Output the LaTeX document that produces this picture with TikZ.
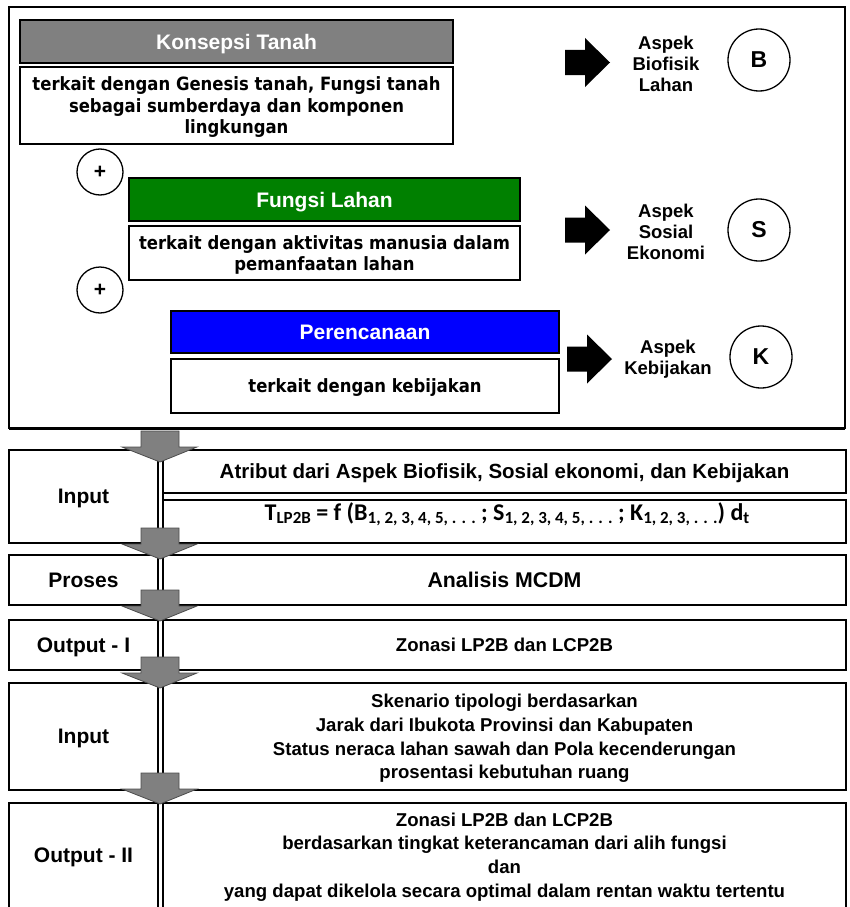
\documentclass[tikz,border=0pt]{standalone}
\usepackage{fontspec}
\setmainfont{Liberation Sans}
\newfontfamily\descfont[FakeStretch=0.9]{DejaVu Sans}
\newfontfamily\formulafont{Carlito}
\definecolor{konsepgray}{RGB}{128,128,128}
\definecolor{fungsigreen}{RGB}{0,128,0}
\definecolor{rencanablue}{RGB}{0,0,255}
\definecolor{flowgray}{RGB}{128,128,128}
\newcommand\fsz[2]{\fontsize{#1}{#2}\selectfont}
\newcommand\subidx[1]{\raisebox{-3pt}{\fsz{17}{17}#1}}

\tikzset{
  % rectangle given by its corners (x1,y1) and (x2,y2)
  spanrect/.style n args={4}{minimum width={#3-#1}, minimum height={#4-#2},
    at={({(#1+#3)/2},{(#2+#4)/2})}},
  boxline/.style={draw=black, line width=1.3pt},
  panel/.style={boxline, rectangle, inner sep=0pt, outer sep=0pt, align=center, text depth=0pt},
  headbox/.style={panel, text=white, font=\bfseries\fsz{21}{24}},
  descbox/.style={panel, fill=white, font=\descfont\bfseries\fsz{18.3}{21.5}},
  aspek/.style={align=center, font=\bfseries\fsz{18.5}{21}},
  badge/.style={circle, boxline, minimum size=62pt, inner sep=0pt, font=\bfseries\fsz{23}{23}},
  plusbadge/.style={circle, boxline, minimum size=46pt, inner sep=0pt, font=\bfseries\fsz{21}{21}},
  rowlabel/.style={panel, font=\bfseries\fsz{21}{24}},
  rowtext/.style={panel, font=\bfseries\fsz{18.6}{23.7}},
  fatarrow/.pic={\fill[black] (0,-12.5) -- (20,-12.5) -- (20,-24.5) -- (45,0) -- (20,24.5) -- (20,12.5) -- (0,12.5) -- cycle;},
  downarrow/.pic={\filldraw[fill=flowgray, draw=black!70, line width=0.8pt]
    (-19,-31) -- (19,-31) -- (19,-15) -- (37,-15) -- (0,0) -- (-38,-15) -- (-19,-15) -- cycle;}
}

\begin{document}
\begin{tikzpicture}[x=1pt,y=-1pt]
\useasboundingbox (0,0) rectangle (849,907);

% upper frame: concepts and aspects
\node[panel, line width=1.5pt, spanrect={9}{7}{845}{428}] (frame) {};
\draw[line width=3pt] (frame.south west) -- (frame.south east);

\node[headbox, fill=konsepgray, spanrect={20}{20}{453}{63}] (konsep) {Konsepsi Tanah};
\node[descbox, spanrect={20}{67}{453}{144}] (konsepdesc)
  {terkait dengan Genesis tanah, Fungsi tanah\\sebagai sumberdaya dan komponen\\lingkungan};
\node[plusbadge] (plus1) at (100,172) {+};
\node[headbox, fill=fungsigreen, spanrect={129}{178}{520}{221}] (fungsi) {Fungsi Lahan};
\node[descbox, spanrect={129}{226}{520}{280}] (fungsidesc)
  {terkait dengan aktivitas manusia dalam\\pemanfaatan lahan};
\node[plusbadge] (plus2) at (100,290) {+};
\node[headbox, fill=rencanablue, spanrect={171}{311}{559}{353}] (rencana) {Perencanaan};
\node[descbox, spanrect={171}{359}{559}{413}] (rencanadesc) {terkait dengan kebijakan};

\pic (arrowB) at (565,62.5) {fatarrow};
\node[aspek] (aspekB) at (666,64) {Aspek\\Biofisik\\Lahan};
\node[badge] (badgeB) at (759,60) {B};
\pic (arrowS) at (565,230) {fatarrow};
\node[aspek] (aspekS) at (666,232) {Aspek\\Sosial\\Ekonomi};
\node[badge] (badgeS) at (759,230) {S};
\pic (arrowK) at (567,359) {fatarrow};
\node[aspek] (aspekK) at (668,359) {Aspek\\Kebijakan};
\node[badge] (badgeK) at (761,357) {K};

% process rows
\node[rowlabel, spanrect={9}{450}{158}{543}] (in1) {Input};
\node[rowtext, font=\bfseries\fsz{20.5}{24}, spanrect={163}{450}{846}{493}] (attr)
  {Atribut dari Aspek Biofisik, Sosial ekonomi, dan Kebijakan};
\node[panel, spanrect={163}{500}{846}{543}] (formulabox) {};
\node[anchor=base, font=\formulafont\bfseries\fsz{24}{24}] (formula) at (507,520)
  {T\subidx{LP2B} = f (B\subidx{1, 2, 3, 4, 5, . . .}\ ; S\subidx{1, 2, 3, 4, 5, . . .} ; K\subidx{1, 2, 3, . . .}) d\subidx{t}};
\draw[boxline] (attr.north west) -- (formulabox.south west);

\node[rowlabel, spanrect={9}{555}{158}{605}] (proses) {Proses};
\node[rowtext, font=\bfseries\fsz{21.3}{24}, spanrect={163}{555}{846}{605}] (mcdm) {Analisis MCDM};

\node[rowlabel, spanrect={9}{620}{158}{670}] (out1) {Output - I};
\node[rowtext, spanrect={163}{620}{846}{670}] (zonasi1) {Zonasi LP2B dan LCP2B};

\node[rowlabel, spanrect={9}{683}{158}{790}] (in2) {Input};
\node[rowtext, spanrect={163}{683}{846}{790}] (skenario)
  {Skenario tipologi berdasarkan\\Jarak dari Ibukota Provinsi dan Kabupaten\\Status neraca lahan sawah dan Pola kecenderungan\\prosentasi kebutuhan ruang};

\node[rowlabel, draw=none, spanrect={9}{803}{158}{907}] (out2) {Output - II};
\node[rowtext, draw=none, spanrect={163}{803}{846}{907}] (zonasi2)
  {Zonasi LP2B dan LCP2B\\berdasarkan tingkat keterancaman dari alih fungsi\\dan\\yang dapat dikelola secara optimal dalam rentan waktu tertentu};
\draw[boxline] (out2.south west) |- (out2.north east) -- (out2.south east);
\draw[boxline] (zonasi2.south west) |- (zonasi2.north east) -- (zonasi2.south east);

% grey flow arrows between the rows
\pic (flow1) at (160,462) {downarrow};
\pic (flow2) at (160,559) {downarrow};
\pic (flow3) at (160,621) {downarrow};
\pic (flow4) at (160,688) {downarrow};
\pic (flow5) at (160,804) {downarrow};
\end{tikzpicture}
\end{document}
